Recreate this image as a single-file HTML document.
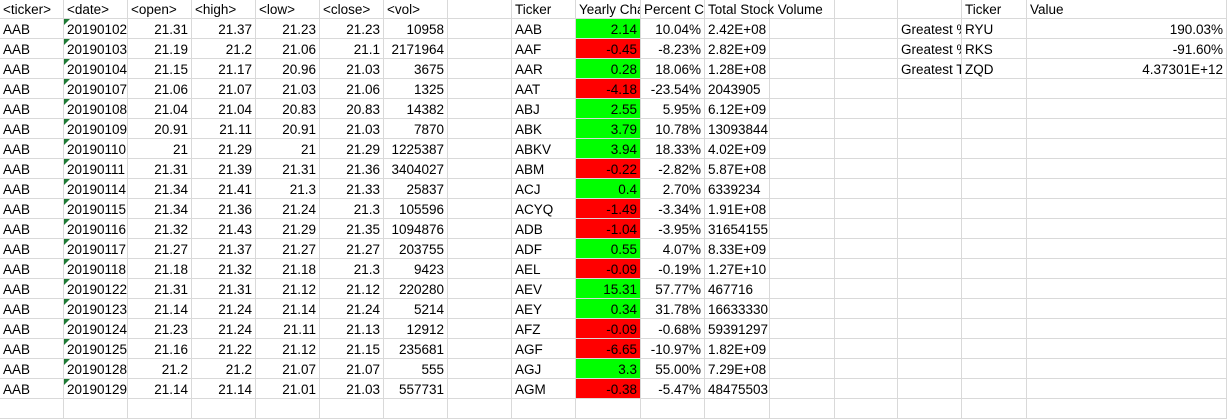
<!DOCTYPE html>
<html><head><meta charset="utf-8"><style>
body{margin:0;width:1227px;height:402px;overflow:hidden;background:#fff;font-family:"Liberation Sans",sans-serif;font-size:13.5px;color:#000}
.c{position:absolute;height:20px;line-height:21px;box-sizing:border-box;border-right:1px solid #d9d9d9;border-bottom:1px solid #d9d9d9;padding:0 3px;white-space:nowrap;overflow:hidden}
.r{text-align:right}
.g{background:#00ff00}.rd{background:#ff0000}
.tri{position:absolute;left:0;top:0;width:0;height:0;border-top:6px solid #1e7b34;border-right:6px solid transparent}
</style></head><body>
<div id="sheet"></div>
<script>
const cols=[0,64,128,192,256,320,384,448,512,576,641,705,770,835,898,962,1027,1227];
const stock=[
["AAB","20190102","21.31","21.37","21.23","21.23","10958"],
["AAB","20190103","21.19","21.2","21.06","21.1","2171964"],
["AAB","20190104","21.15","21.17","20.96","21.03","3675"],
["AAB","20190107","21.06","21.07","21.03","21.06","1325"],
["AAB","20190108","21.04","21.04","20.83","20.83","14382"],
["AAB","20190109","20.91","21.11","20.91","21.03","7870"],
["AAB","20190110","21","21.29","21","21.29","1225387"],
["AAB","20190111","21.31","21.39","21.31","21.36","3404027"],
["AAB","20190114","21.34","21.41","21.3","21.33","25837"],
["AAB","20190115","21.34","21.36","21.24","21.3","105596"],
["AAB","20190116","21.32","21.43","21.29","21.35","1094876"],
["AAB","20190117","21.27","21.37","21.27","21.27","203755"],
["AAB","20190118","21.18","21.32","21.18","21.3","9423"],
["AAB","20190122","21.31","21.31","21.12","21.12","220280"],
["AAB","20190123","21.14","21.24","21.14","21.24","5214"],
["AAB","20190124","21.23","21.24","21.11","21.13","12912"],
["AAB","20190125","21.16","21.22","21.12","21.15","235681"],
["AAB","20190128","21.2","21.2","21.07","21.07","555"],
["AAB","20190129","21.14","21.14","21.01","21.03","557731"]];
const summ=[
["AAB","2.14","10.04%","2.42E+08"],["AAF","-0.45","-8.23%","2.82E+09"],["AAR","0.28","18.06%","1.28E+08"],
["AAT","-4.18","-23.54%","2043905"],["ABJ","2.55","5.95%","6.12E+09"],["ABK","3.79","10.78%","13093844"],
["ABKV","3.94","18.33%","4.02E+09"],["ABM","-0.22","-2.82%","5.87E+08"],["ACJ","0.4","2.70%","6339234"],
["ACYQ","-1.49","-3.34%","1.91E+08"],["ADB","-1.04","-3.95%","31654155"],["ADF","0.55","4.07%","8.33E+09"],
["AEL","-0.09","-0.19%","1.27E+10"],["AEV","15.31","57.77%","467716"],["AEY","0.34","31.78%","16633330"],
["AFZ","-0.09","-0.68%","59391297"],["AGF","-6.65","-10.97%","1.82E+09"],["AGJ","3.3","55.00%","7.29E+08"],
["AGM","-0.38","-5.47%","48475503"]];
const hdr=["<ticker>","<date>","<open>","<high>","<low>","<close>","<vol>","","Ticker","Yearly Change","Percent Change","Total Stock Volume","","","","Ticker","Value"];
const great=[["Greatest % Increase","RYU","190.03%"],["Greatest % Decrease","RKS","-91.60%"],["Greatest Total Volume","ZQD","4.37301E+12"]];
const S=document.getElementById('sheet');
function cell(r,c,t,cls,tri){
 const d=document.createElement('div');
 d.className='c '+(cls||'');
 d.style.left=cols[c]+'px';d.style.top=(r*20-1)+'px';d.style.width=(cols[c+1]-cols[c])+'px';
 d.textContent=t;
 if(r===0&&c===11){d.style.overflow='visible';d.style.zIndex='2';}
 if(tri){const s=document.createElement('span');s.className='tri';d.appendChild(s);}
 
 
 S.appendChild(d);
}
for(let r=0;r<21;r++){
 for(let c=0;c<17;c++){
  let t='',cls='',tri=false;
  if(r===0){t=hdr[c];}
  else{
   const s=stock[r-1],m=summ[r-1];
   if(s&&c<7){t=s[c];if(c>=2)cls='r';if(c===1)tri=true;}
   if(m&&c>=8&&c<=11){t=m[c-8];if(c>8)cls='r';if(c===11)cls='';if(c===9)cls+=parseFloat(t)>=0?' g':' rd';}
   const g=great[r-1];
   if(g&&c===14)t=g[0];
   if(g&&c===15)t=g[1];
   if(g&&c===16){t=g[2];cls='r';}
  }
  cell(r,c,t,cls,tri);
 }
}
</script>
</body></html>
